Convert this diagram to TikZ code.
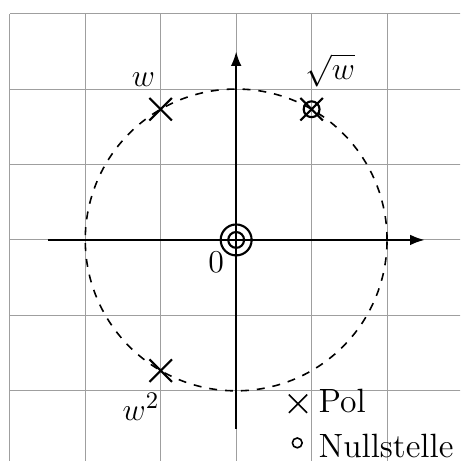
\documentclass[tikz,border=0pt]{standalone}
\usepackage{amsmath}
\usetikzlibrary{arrows.meta, shapes.misc, positioning}

\begin{document}
\begin{tikzpicture}[
        pol/.style={cross out, draw, thick, minimum size=#1, inner sep=0pt},
        pol/.default=0.27cm,
        nst/.style={circle, draw, thick, minimum size=#1, inner sep=0pt},
        nst/.default=0.21cm,
        axis/.style={-{Latex[length=5.5pt, width=4pt]}, thick},
        lbl/.style={font=\fontsize{12.7}{15}\selectfont, inner sep=0pt}
    ]
        \clip (-3.13,-2.93) rectangle (2.97,3.18);
        \draw[gray!75, thin] (-3,-3) grid (3,3);
        \draw[semithick, dashed] (0,0) circle (2);

        \coordinate (xmin) at (-2.5,0);
        \coordinate (xmax) at (2.5,0);
        \coordinate (ymin) at (0,-2.5);
        \coordinate (ymax) at (0,2.5);
        \draw[axis] (xmin) -- (xmax);
        \draw[axis] (ymin) -- (ymax);

        \node[pol] (w) at (120:2) {};
        \node[pol] (wsq) at (240:2) {};
        \node[pol] (sqrtw) at (60:2) {};
        \node[nst] (sqrtwnull) at (60:2) {};
        \node[nst] (origin) at (0,0) {};
        \node[nst=0.41cm] (originb) at (0,0) {};

        \node[lbl] (wlabel) at (-1.23,2.12) {$w$};
        \node[lbl] (sqrtwlabel) at (1.245,2.25) {$\sqrt{w}$};
        \node[lbl] (wsqlabel) at (-1.26,-2.21) {$w^2$};
        \node[lbl] (originlabel) at (-0.265,-0.30) {$0$};

        % Legende
        \node[pol=0.22cm, semithick] (legpol) at (0.82,-2.17) {};
        \node[lbl, anchor=base west] (poltext) at (1.086,-2.29) {Pol};
        \node[nst=0.13cm, semithick] (legnst) at (0.81,-2.69) {};
        \node[lbl, anchor=base west] (nsttext) at (1.086,-2.88) {Nullstelle};
    \end{tikzpicture}
\end{document}
